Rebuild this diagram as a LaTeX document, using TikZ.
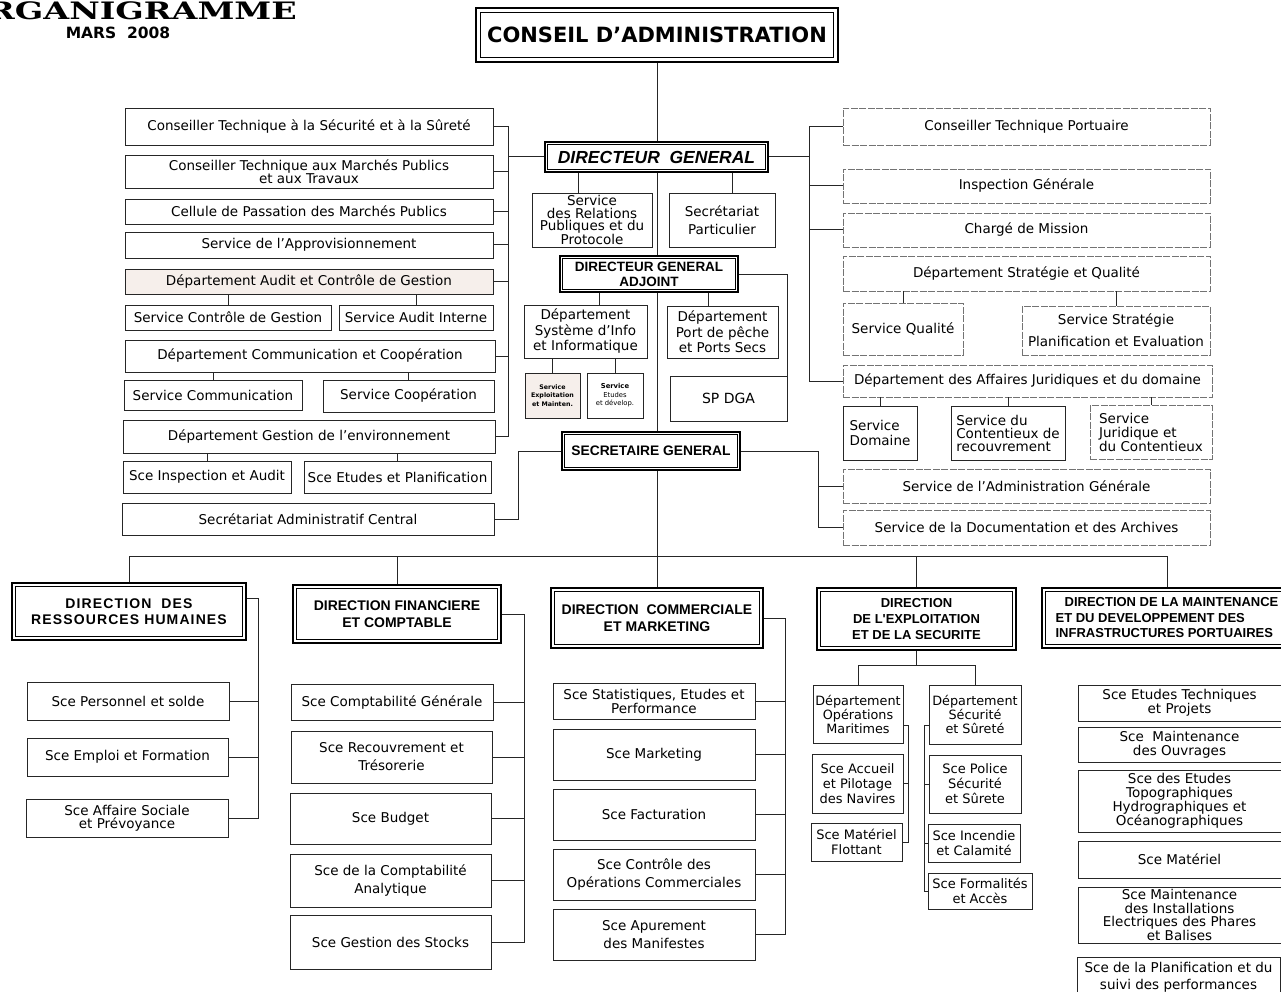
\documentclass[tikz,border=0pt]{standalone}
\usepackage{fontspec}
\usepackage{graphicx}
\setmainfont{DejaVu Sans}
\newfontfamily\hdfont{Liberation Sans}
\newfontfamily\ttlfont{DejaVu Serif}
\definecolor{pinkbg}{HTML}{F6EFEB}
\tikzset{
 box/.style={draw=black!85, line width=0.9pt, inner sep=0pt, align=center, fill=white, font=\fontsize{13.5}{16}\selectfont},
 rbox/.style={box, draw=black!55, dash pattern=on 7pt off 1.5pt},
 hd/.style={draw=black, line width=2.4pt, inner sep=0pt, align=center, fill=white, font=\hdfont\bfseries\fontsize{14}{17}\selectfont},
 con/.style={draw=black!85, line width=1pt},
 inframe/.style={draw=black, line width=1pt},
}
% \bx[extra]{style}{name}{x1}{y1}{x2}{y2}{text}
\newcommand\bx[8][]{\node[#2, minimum width={#6-#4}, minimum height={#7-#5}, #1] (#3) at ({(#4+#6)/2},{(#5+#7)/2}) {#8};}
\newcommand\frameIn[2]{\draw[inframe] ([xshift=#2pt,yshift=-#2pt]#1.north west) rectangle ([xshift=-#2pt,yshift=#2pt]#1.south east);}
\begin{document}
\begin{tikzpicture}[x=1pt,y=-1pt]
\useasboundingbox (0,0) rectangle (1281,992);
\fill[white] (0,0) rectangle (1281,992);

% title
\node[anchor=east, inner sep=0pt] (ttl) at (297,11) {\ttlfont\bfseries\fontsize{24}{24}\selectfont\scalebox{1.39}[1]{ORGANIGRAMME}};
\node[inner sep=0pt] (mars) at (118,33) {\bfseries\fontsize{15.5}{16}\selectfont MARS\ \ 2008};

% top / centre
\bx[font=\bfseries\fontsize{21}{24}\selectfont]{hd}{ca}{476}{8}{838}{62}{CONSEIL D'ADMINISTRATION}
\bx[font=\hdfont\bfseries\itshape\fontsize{17.5}{19}\selectfont]{hd}{dg}{545}{142}{768}{172}{DIRECTEUR\ \ GENERAL}
\bx[font=\fontsize{13.5}{12.5}\selectfont]{box}{srp}{532}{193}{652}{247}{Service\\des Relations\\Publiques et du\\Protocole}
\bx[font=\fontsize{13.5}{18}\selectfont]{box}{spa}{669}{193}{775}{247}{Secrétariat\\Particulier}
\bx[font=\hdfont\bfseries\fontsize{13.5}{15}\selectfont]{hd}{dga}{560}{256}{738}{292}{DIRECTEUR GENERAL\\ADJOINT}
\bx[font=\fontsize{13.5}{15.5}\selectfont]{box}{dsi}{524}{305}{647}{358}{Département\\Système d'Info\\et Informatique}
\bx[font=\fontsize{13.5}{15.5}\selectfont]{box}{dpp}{667}{306}{778}{358}{Département\\Port de pêche\\et Ports Secs}
\bx[fill=pinkbg, font=\bfseries\fontsize{6.3}{8.5}\selectfont]{box}{sem}{525}{373}{580}{418}{Service\\Exploitation\\et Mainten.}
\bx[font=\fontsize{6.8}{8.5}\selectfont]{box}{sed}{587}{373}{643}{418}{\textbf{Service}\\Etudes\\et dévelop.}
\bx[font=\fontsize{14}{16}\selectfont]{box}{spd}{670}{376}{787}{421}{SP DGA}
\bx[font=\hdfont\bfseries\fontsize{13.8}{15}\selectfont]{hd}{sg}{562}{432}{740}{470}{SECRETAIRE GENERAL}

% left column
\bx{box}{c1}{125}{108}{493}{145}{Conseiller Technique à la Sécurité et à la Sûreté}
\bx[font=\fontsize{13.5}{13}\selectfont]{box}{c2}{125}{155}{493}{188}{Conseiller Technique aux Marchés Publics\\et aux Travaux}
\bx{box}{c3}{125}{199}{493}{224}{Cellule de Passation des Marchés Publics}
\bx{box}{c4}{125}{232}{493}{258}{Service de l'Approvisionnement}
\bx[fill=pinkbg]{box}{c5}{125}{269}{493}{294}{Département Audit et Contrôle de Gestion}
\bx{box}{c6}{125}{305}{331}{330}{Service Contrôle de Gestion}
\bx{box}{c7}{339}{305}{493}{330}{Service Audit Interne}
\bx{box}{c8}{125}{340}{495}{372}{Département Communication et Coopération}
\bx{box}{c9}{124}{380}{302}{410}{Service Communication}
\bx{box}{c10}{323}{380}{494}{412}{Service Coopération}
\bx{box}{c11}{123}{420}{495}{453}{Département Gestion de l'environnement}
\bx{box}{c12}{123}{461}{291}{493}{Sce Inspection et Audit}
\bx{box}{c13}{304}{461}{491}{493}{Sce Etudes et Planification}
\bx{box}{c14}{122}{503}{494}{535}{Secrétariat Administratif Central}

% right column
\bx{rbox}{r1}{843}{108}{1210}{145}{Conseiller Technique Portuaire}
\bx{rbox}{r2}{843}{169}{1210}{203}{Inspection Générale}
\bx{rbox}{r3}{843}{213}{1210}{247}{Chargé de Mission}
\bx{rbox}{r4}{843}{256}{1210}{291}{Département Stratégie et Qualité}
\bx{rbox}{r5}{843}{303}{963}{355}{Service Qualité}
\bx[font=\fontsize{13.5}{22}\selectfont]{rbox}{r6}{1022}{306}{1210}{355}{Service Stratégie\\Planification et Evaluation}
\bx{rbox}{r7}{843}{365}{1212}{397}{Département des Affaires Juridiques et du domaine}
\bx[align=left, font=\fontsize{13.5}{15}\selectfont]{box}{r8}{843}{406}{917}{460}{Service\\Domaine}
\bx[align=left, font=\fontsize{13.5}{13}\selectfont]{box}{r9}{951}{406}{1065}{460}{Service du\\Contentieux de\\recouvrement}
\bx[align=left, font=\fontsize{13.5}{14}\selectfont]{rbox}{r10}{1090}{405}{1212}{459}{Service\\Juridique et\\du Contentieux}
\bx{rbox}{r11}{843}{469}{1210}{503}{Service de l'Administration Générale}
\bx{rbox}{r12}{843}{510}{1210}{545}{Service de la Documentation et des Archives}

% directions
\bx[font=\hdfont\bfseries\fontsize{14}{16}\selectfont\addfontfeature{LetterSpace=8}]{hd}{drh}{12}{583}{246}{640}{DIRECTION\ \ DES\\RESSOURCES HUMAINES}
\bx{hd}{dfc}{293}{585}{501}{643}{DIRECTION FINANCIERE\\ET COMPTABLE}
\bx{hd}{dcm}{551}{588}{763}{648}{DIRECTION\ \ COMMERCIALE\\ET MARKETING}
\bx[font=\hdfont\bfseries\fontsize{13}{16}\selectfont]{hd}{des}{817}{588}{1016}{650}{DIRECTION\\DE L'EXPLOITATION\\ET DE LA SECURITE}
\bx[align=left, font=\hdfont\bfseries\fontsize{13}{15.5}\selectfont]{hd}{dmd}{1042}{588}{1292}{648}{\hspace*{9pt}DIRECTION DE LA MAINTENANCE\\ET DU DEVELOPPEMENT DES\\INFRASTRUCTURES PORTUAIRES}

% DRH services
\bx{box}{h1}{27}{682}{229}{720}{Sce Personnel et solde}
\bx{box}{h2}{27}{738}{228}{776}{Sce Emploi et Formation}
\bx[font=\fontsize{13.5}{13}\selectfont]{box}{h3}{26}{799}{228}{837}{Sce Affaire Sociale\\et Prévoyance}
% DFC services
\bx{box}{f1}{291}{684}{493}{720}{Sce Comptabilité Générale}
\bx[font=\fontsize{13.5}{18}\selectfont]{box}{f2}{291}{731}{492}{783}{Sce Recouvrement et\\Trésorerie}
\bx{box}{f3}{290}{793}{491}{844}{Sce Budget}
\bx[font=\fontsize{13.5}{18}\selectfont]{box}{f4}{290}{854}{491}{907}{Sce de la Comptabilité\\Analytique}
\bx{box}{f5}{290}{915}{491}{969}{Sce Gestion des Stocks}
% DCM services
\bx[font=\fontsize{13.5}{14}\selectfont]{box}{m1}{553}{683}{755}{719}{Sce Statistiques, Etudes et\\Performance}
\bx{box}{m2}{553}{729}{755}{780}{Sce Marketing}
\bx{box}{m3}{553}{789}{755}{840}{Sce Facturation}
\bx[font=\fontsize{13.5}{18}\selectfont]{box}{m4}{553}{849}{755}{900}{Sce Contrôle des\\Opérations Commerciales}
\bx[font=\fontsize{13.5}{18}\selectfont]{box}{m5}{553}{909}{755}{960}{Sce Apurement\\des Manifestes}
% DES
\bx[font=\fontsize{12.8}{14}\selectfont]{box}{e1}{813}{685}{903}{743}{Département\\Opérations\\Maritimes}
\bx[font=\fontsize{12.8}{14}\selectfont]{box}{e2}{929}{685}{1021}{744}{Département\\Sécurité\\et Sûreté}
\bx[font=\fontsize{13}{15}\selectfont]{box}{e3}{812}{754}{903}{813}{Sce Accueil\\et Pilotage\\des Navires}
\bx[font=\fontsize{13}{15}\selectfont]{box}{e4}{811}{823}{902}{861}{Sce Matériel\\Flottant}
\bx[font=\fontsize{13}{15}\selectfont]{box}{e5}{929}{755}{1021}{813}{Sce Police\\Sécurité\\et Sûrete}
\bx[font=\fontsize{13}{15}\selectfont]{box}{e6}{928}{824}{1020}{862}{Sce Incendie\\et Calamité}
\bx[font=\fontsize{13}{15}\selectfont]{box}{e7}{928}{873}{1032}{909}{Sce Formalités\\et Accès}
% DMDIP
\bx[font=\fontsize{13.5}{14}\selectfont]{box}{p1}{1078}{685}{1281}{721}{Sce Etudes Techniques\\et Projets}
\bx[font=\fontsize{13.5}{14}\selectfont]{box}{p2}{1078}{727}{1281}{762}{Sce\ \ Maintenance\\des Ouvrages}
\bx[font=\fontsize{13.5}{14}\selectfont]{box}{p3}{1078}{770}{1281}{832}{Sce des Etudes\\Topographiques\\Hydrographiques et\\Océanographiques}
\bx{box}{p4}{1078}{841}{1281}{878}{Sce Matériel}
\bx[font=\fontsize{13.5}{13.5}\selectfont]{box}{p5}{1078}{887}{1281}{943}{Sce Maintenance\\des Installations\\Electriques des Phares\\et Balises}
\bx[font=\fontsize{13.5}{17}\selectfont]{box}{p6}{1077}{957}{1280}{998}{Sce de la Planification et du\\suivi des performances}

% inner frames
\frameIn{ca}{6}
\frameIn{dg}{4}
\frameIn{dga}{4}
\frameIn{sg}{4}
\frameIn{drh}{5}
\frameIn{dfc}{5}
\frameIn{dcm}{5}
\frameIn{des}{5}
\frameIn{dmd}{5}

% bus coordinates
\coordinate (spine) at (657,0);
\coordinate (lbus) at (508,0);
\coordinate (rbus) at (809,0);
\coordinate (sgl) at (518,0);
\coordinate (sgr) at (818,0);
\coordinate (bus) at (0,556);
\coordinate (bh) at (258,0);
\coordinate (bf) at (524,0);
\coordinate (bm) at (785,0);
\coordinate (desj) at (0,665);
\coordinate (bo) at (908,0);
\coordinate (bs) at (924,0);

% main spine
\draw[con] (ca.south -| spine) -- (dg.north -| spine);
\draw[con] (dg.south -| spine) -- (dga.north -| spine);
\draw[con] (dga.south -| spine) -- (sg.north -| spine);
\draw[con] (sg.south -| spine) -- (dcm.north -| spine);

% left
\draw[con] (dg.west) -- (dg.west -| lbus);
\draw[con] (c1.east -| lbus) -- (c11.east -| lbus);
\foreach \n in {c1,c2,c3,c4,c5,c8,c11} \draw[con] (\n.east) -- (\n.east -| lbus);
\draw[con] (c5.south -| c6.north) -- (c6.north);
\draw[con] (c5.south -| c7.north) -- (c7.north);
\draw[con] (c8.south -| c9.north) -- (c9.north);
\draw[con] (c8.south -| c10.north) -- (c10.north);
\draw[con] (c11.south -| c12.north) -- (c12.north);
\draw[con] (c11.south -| c13.north) -- (c13.north);
\draw[con] (sg.west) -- (sg.west -| sgl) |- (c14.east);

% right
\draw[con] (dg.east) -- (dg.east -| rbus);
\draw[con] (r1.west -| rbus) |- (r7.west);
\foreach \n in {r1,r2,r3} \draw[con] (\n.west) -- (\n.west -| rbus);
\draw[con] (r4.south -| r5.north) -- (r5.north);
\draw[con] (r4.south -| r6.north) -- (r6.north);
\draw[con] (r7.south -| r8.north) -- (r8.north);
\draw[con] (r7.south -| r9.north) -- (r9.north);
\draw[con] (r7.south -| r10.north) -- (r10.north);
\draw[con] (sg.east) -- (sg.east -| sgr) |- (r12.west);
\draw[con] (r11.west) -- (r11.west -| sgr);

% centre
\coordinate (srpT) at ([xshift=-14pt]srp.north);
\coordinate (spaT) at ([xshift=10pt]spa.north);
\coordinate (dsiT) at ([xshift=14pt]dsi.north);
\coordinate (dppT) at ([xshift=-14pt]dpp.north);
\draw[con] (srpT) -- (srpT |- dg.south);
\draw[con] (spaT) -- (spaT |- dg.south);
\draw[con] (dsiT) -- (dsiT |- dga.south);
\draw[con] (dppT) -- (dppT |- dga.south);
\draw[con] (dsi.south -| sem.north) -- (sem.north);
\draw[con] (dsi.south -| sed.north) -- (sed.north);
\draw[con] (dga.east) -| (spd.north east);

% bottom bus
\draw[con] (drh.north) -- (drh.north |- bus) -- (dmd.north |- bus) -- (dmd.north);
\draw[con] (dfc.north) -- (dfc.north |- bus);
\draw[con] (des.north) -- (des.north |- bus);

% DRH
\coordinate (drhE) at ([yshift=13pt]drh.east);
\draw[con] (drhE) -- (drhE -| bh) |- (h3.east);
\foreach \n in {h1,h2} \draw[con] (\n.east) -- (\n.east -| bh);
% DFC
\draw[con] (dfc.east) -- (dfc.east -| bf) |- (f5.east);
\foreach \n in {f1,f2,f3,f4} \draw[con] (\n.east) -- (\n.east -| bf);
% DCM
\draw[con] (dcm.east) -- (dcm.east -| bm) |- (m5.east);
\foreach \n in {m1,m2,m3,m4} \draw[con] (\n.east) -- (\n.east -| bm);
% DES
\draw[con] (des.south) -- (des.south |- desj);
\draw[con] (e1.north) -- (e1.north |- desj) -- (e2.north |- desj) -- (e2.north);
\coordinate (e1E) at ([yshift=-11pt]e1.east);
\draw[con] (e1E) -- (e1E -| bo) |- (e4.east);
\draw[con] (e3.east) -- (e3.east -| bo);
\coordinate (e2W) at ([yshift=-11pt]e2.west);
\draw[con] (e2W) -- (e2W -| bs) |- (e7.west);
\foreach \n in {e5,e6} \draw[con] (\n.west) -- (\n.west -| bs);
\end{tikzpicture}
\end{document}
